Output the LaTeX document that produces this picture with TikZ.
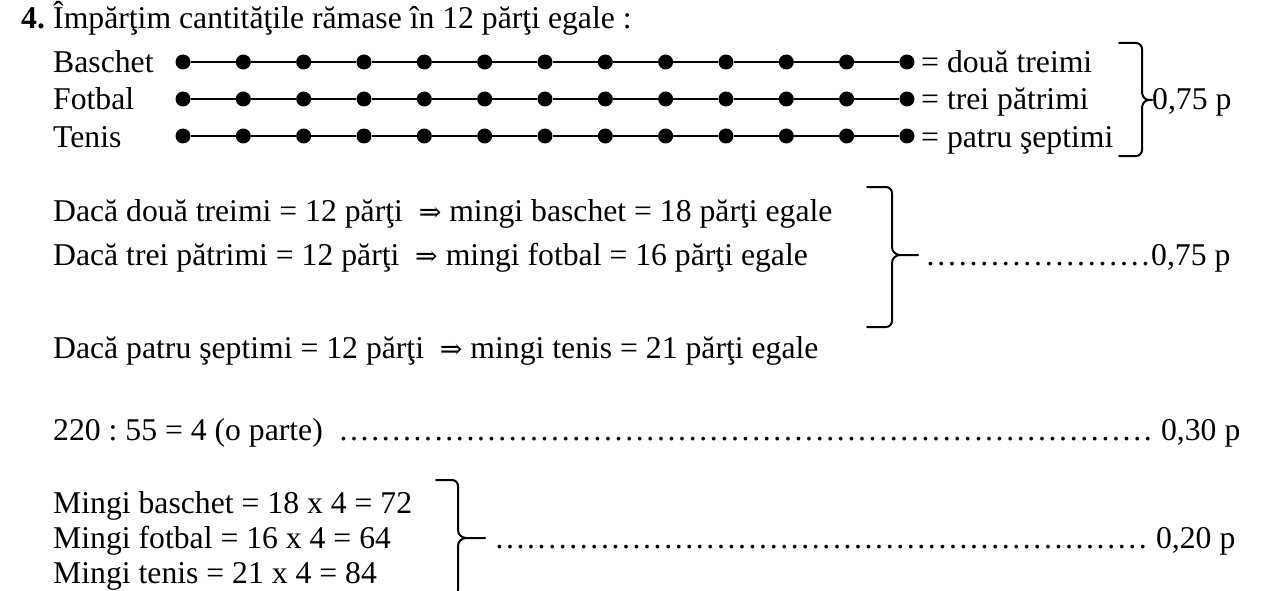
\documentclass[tikz,border=0pt]{standalone}
\usepackage{fontspec}
\setmainfont{Liberation Serif}
\newfontfamily\arrowfont{DejaVu Serif}
\frenchspacing
\newcommand{\dotrow}[1]{\hbox to #1{\xleaders\hbox to 10.5pt{\hss.\hss}\hfill}}
\newcommand{\dimpl}{{\arrowfont\fontsize{27}{32}\selectfont ⇒}}
\begin{document}
\begin{tikzpicture}[x=1pt,y=-1pt,
  txt/.style={inner sep=0pt, anchor=base west, font=\fontsize{31.7}{38}\selectfont},
  bead/.style={circle, fill=black, inner sep=0pt, minimum size=15pt},
  rod/.style={line width=2pt},
  brace/.style={line width=2pt, line join=round, line cap=round}]
\useasboundingbox (0,0) rectangle (1266,591);
\fill[white] (0,0) rectangle (1266,591);
\clip (0,0) rectangle (1266,591);

% title
\node[txt] (num) at (21,29) {\textbf{4.}};
\node[txt] (title) at (53,29) {Împărţim cantităţile rămase în 12 părţi egale :};

% rows
\node[txt] (lb) at (53,73) {Baschet};
\node[txt] (lf) at (53,110) {Fotbal};
\node[txt] (lt) at (53,147) {Tenis};
\foreach \r/\y in {b/62,f/99,t/136}{
  \foreach \k in {0,...,12}
    \node[bead] (\r\k) at ({183+60.33*\k},\y) {};
  \foreach \k [evaluate=\k as \j using int(\k+1)] in {0,...,11}
    \draw[rod] (\r\k) -- (\r\j);
}
\node[txt] (rb) at (921,73) {= două treimi};
\node[txt] (rf) at (921,110) {= trei pătrimi};
\node[txt] (rt) at (921,147) {= patru şeptimi};

% brace 1
\draw[brace] (1119,43) -- (1136,43) to[out=0,in=90] (1142,49) -- (1142,92)
  to[out=270,in=180] (1149,100) -- (1152,100);
\draw[brace] (1149,100) to[out=180,in=90] (1142,108) -- (1142,150)
  to[out=270,in=0] (1136,156) -- (1119,156);
\node[txt] (p1) at (1152,110) {0,75 p};

% Daca lines
\node[txt] (c1) at (53,221) {Dacă două treimi = 12 părţi\ \ \dimpl\ mingi baschet = 18 părţi egale};
\node[txt] (c2) at (53,265) {Dacă trei pătrimi = 12 părţi\ \ \dimpl\ mingi fotbal = 16 părţi egale};
\node[txt] (c3) at (53,358) {Dacă patru şeptimi = 12 părţi\ \ \dimpl\ mingi tenis = 21 părţi egale};

% brace 2
\draw[brace] (867,187) -- (886,187) to[out=0,in=90] (892,193) -- (892,247)
  to[out=270,in=180] (900,255) -- (918,255);
\draw[brace] (900,255) to[out=180,in=90] (892,263) -- (892,321)
  to[out=270,in=0] (886,327) -- (867,327);
\node[txt] (p2) at (925,265) {\dotrow{226pt}0,75 p};

% 220 line
\node[txt] (c4) at (53,440) {220 : 55 = 4 (o parte)};
\node[txt] (p3) at (338,440) {\dotrow{815pt} 0,30 p};

% Mingi lines
\node[txt] (m1) at (53,513) {Mingi baschet = 18 x 4 = 72};
\node[txt] (m2) at (53,548) {Mingi fotbal = 16 x 4 = 64};
\node[txt] (m3) at (53,583) {Mingi tenis = 21 x 4 = 84};

% brace 3
\draw[brace] (436,480) -- (452,480) to[out=0,in=90] (458,486) -- (458,530)
  to[out=270,in=180] (466,538) -- (485,538);
\draw[brace] (466,538) to[out=180,in=90] (458,546) -- (458,590)
  to[out=270,in=0] (452,596) -- (436,596);
\node[txt] (p4) at (494,548) {\dotrow{654pt} 0,20 p};
\end{tikzpicture}
\end{document}
